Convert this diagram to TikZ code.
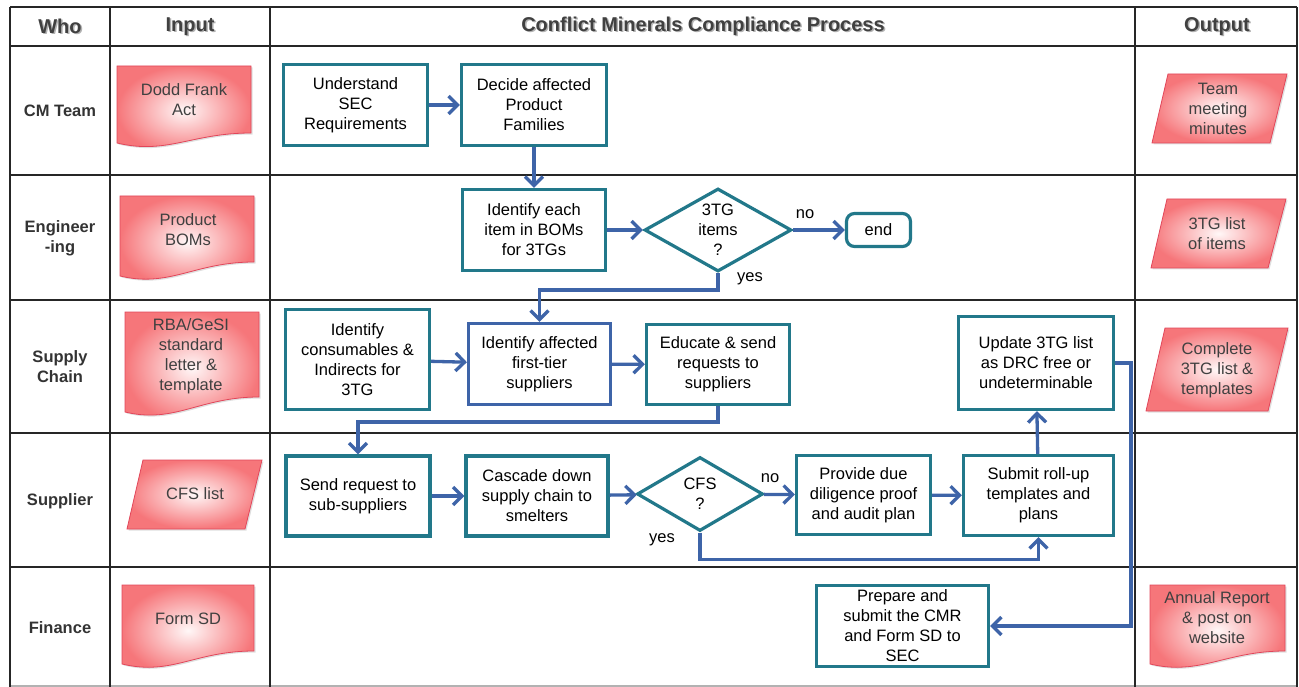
\documentclass[tikz,border=0pt]{standalone}
\usepackage{fontspec}
\setmainfont{Liberation Sans}
\usetikzlibrary{arrows.meta, shapes.geometric, shadows}

\definecolor{boxteal}{RGB}{34,120,138}
\definecolor{flowblue}{RGB}{62,100,168}
\definecolor{docred}{RGB}{225,70,90}
\definecolor{docpink}{RGB}{246,118,122}
\definecolor{headgray}{RGB}{64,64,64}

\newcommand{\boxfont}{\fontsize{16.5}{20}\selectfont}
\newcommand{\headfont}{\fontsize{20}{24}\selectfont\bfseries}
\newcommand{\whofont}{\fontsize{16.5}{20}\selectfont\bfseries}
\newcommand{\shadowed}[1]{\makebox[0pt][l]{\hspace{1.5pt}\raisebox{-1.5pt}{\textcolor{black!30}{#1}}}#1}

% input/output shapes
\newcommand{\docshape}[5]{% left, top, right, bottom right, bottom left
  \shadedraw[inputshape] (#1,#2) -- (#3,#2) -- (#3,#4)
    .. controls +(-60,0) and +(50,12) .. (#1,#5) -- cycle;}
\newcommand{\datashape}[6]{% top left, top right, top, bottom left, bottom right, bottom
  \shadedraw[inputshape] (#1,#3) -- (#2,#3) -- (#5,#6) -- (#4,#6) -- cycle;}

\tikzset{
  procbox/.style={draw=boxteal, line width=3.2pt, fill=white, align=center,
    font=\boxfont, minimum width=144pt, minimum height=81pt, inner sep=2pt},
  decision/.style={diamond, draw=boxteal, line width=3.2pt, fill=white,
    align=center, font=\boxfont, inner sep=0pt, aspect=1.8},
  flow/.style={draw=flowblue, line width=3.3pt,
    -{Straight Barb[length=9pt,width=18pt]}},
  inputshape/.style={draw=docred, line width=0.8pt, shading=radial,
    inner color=red!3, outer color=docpink,
    drop shadow={opacity=0.25, shadow xshift=1.5pt, shadow yshift=-1.5pt}},
  inputtext/.style={align=center, font=\boxfont, text=headgray},
  grid/.style={draw=black!85, line width=2pt},
  lanelabel/.style={align=center, font=\whofont, text=black!80},
  header/.style={font=\headfont, text=headgray},
  answer/.style={font=\boxfont}
}

\begin{document}
\begin{tikzpicture}[x=1pt, y=-1pt]
\useasboundingbox (0,0) rectangle (1299,687);

% table
\foreach \yy in {7,46,175,300,433,567}
  \draw[grid] (10,\yy) -- (1297,\yy);
\draw[draw=black!30, line width=1.5pt] (10,686) -- (1297,686);
\foreach \xx in {10,110,270,1135,1297}
  \draw[grid] (\xx,7) -- (\xx,687);

% headers
\node[header] (hwho) at (60,27) {\shadowed{Who}};
\node[header] (hinput) at (190,27) {\shadowed{Input}};
\node[header] (hprocess) at (703,27) {\shadowed{Conflict Minerals Compliance Process}};
\node[header] (houtput) at (1217,27) {\shadowed{Output}};

% lanes
\node[lanelabel] (cmteam) at (60,111) {CM Team};
\node[lanelabel] (engineering) at (60,238) {Engineer\\-ing};
\node[lanelabel] (supplychain) at (60,367) {Supply\\Chain};
\node[lanelabel] (supplier) at (60,501) {Supplier};
\node[lanelabel] (finance) at (60,628) {Finance};

% inputs
\docshape{117}{66}{251}{133}{143}
\node[inputtext] (doddfrank) at (184,100) {Dodd Frank\\Act};
\docshape{120}{196}{254}{262}{276}
\node[inputtext] (boms) at (188,230) {Product\\BOMs};
\docshape{125}{312}{259}{397}{412}
\node[inputtext] (rbaletter) at (191,356) {RBA/GeSI\\standard\\letter \&\\template};
\datashape{143}{262}{460}{127}{245}{529}
\node[inputtext] (cfslist) at (195,494) {CFS list};
\docshape{122}{585}{254}{651}{664}
\node[inputtext] (formsd) at (188,619) {Form SD};

% outputs
\datashape{1168}{1287}{74}{1152}{1270}{143}
\node[inputtext] (minutes) at (1218,109) {Team\\meeting\\minutes};
\datashape{1167}{1286}{199}{1151}{1268}{268}
\node[inputtext] (itemlist) at (1217,234) {3TG list\\of items};
\datashape{1165}{1288}{328}{1146}{1268}{411}
\node[inputtext] (fulllist) at (1217,370) {Complete\\3TG list \&\\templates};
\docshape{1150}{585}{1285}{651}{664}
\node[inputtext] (annual) at (1217,618) {Annual Report\\\& post on\\website};

% process
\node[procbox] (understand) at (355.5,105) {Understand\\SEC\\Requirements};
\node[procbox, minimum width=145pt] (decide) at (534,105) {Decide affected\\Product\\Families};
\node[procbox, minimum width=143pt] (bomitems) at (534,230) {Identify each\\item in BOMs\\for 3TGs};
\node[decision, minimum width=147pt, minimum height=83pt] (tgitems) at (718,230) {3TG\\items\\?};
\node[procbox, rounded corners=8pt, minimum width=64pt, minimum height=33pt] (endbox) at (878.5,230) {end};

\node[procbox, minimum height=100pt] (consumables) at (357.5,359.5) {Identify\\consumables \&\\Indirects for\\3TG};
\node[procbox, draw=flowblue, minimum width=142pt] (affected) at (539.5,364) {Identify affected\\first-tier\\suppliers};
\node[procbox, minimum width=143pt, minimum height=80pt] (educate) at (718,364.5) {Educate \& send\\requests to\\suppliers};
\node[procbox, minimum width=155pt, minimum height=93pt] (update) at (1036,363) {Update 3TG list\\as DRC free or\\undeterminable};

\node[procbox, minimum height=80pt] (sendreq) at (358,496) {Send request to\\sub-suppliers};
\node[procbox, minimum width=142pt, minimum height=80pt] (cascade) at (537,496) {Cascade down\\supply chain to\\smelters};
\node[decision, minimum width=126pt, minimum height=74pt] (cfs) at (700,494) {CFS\\?};
\node[procbox, minimum width=134pt, minimum height=79pt] (provide) at (863.5,495) {Provide due\\diligence proof\\and audit plan};
\node[procbox, minimum width=150pt, minimum height=80pt] (submit) at (1038.5,495.5) {Submit roll-up\\templates and\\plans};

\node[procbox, minimum width=172pt] (prepare) at (902.5,626) {Prepare and\\submit the CMR\\and Form SD to\\SEC};

% answers
\node[answer] (tgno) at (805,214) {no};
\node[answer] (tgyes) at (750,279) {yes};
\node[answer] (cfsno) at (770,478) {no};
\node[answer] (cfsyes) at (662,540) {yes};

% connectors
\draw[flow] (understand) -- (decide);
\draw[flow] (decide) -- (bomitems);
\draw[flow] (bomitems) -- (tgitems);
\draw[flow] (tgitems) -- (endbox);
\draw[flow] (tgitems.south) -- ++(0,17) -| (affected.north);
\draw[flow] (consumables) -- (affected);
\draw[flow] (affected) -- (educate);
\draw[flow] (educate.south) -- ++(0,16) -| (sendreq.north);
\draw[flow] (sendreq) -- (cascade);
\draw[flow] (cascade) -- (cfs);
\draw[flow] (cfs) -- (provide);
\draw[flow] (provide) -- (submit);
\draw[flow] (cfs.south) -- ++(0,27) -| (submit.south);
\draw[flow] (submit) -- (update);
\draw[flow] (update.east) -- ++(16,0) |- (prepare.east);
\end{tikzpicture}
\end{document}
